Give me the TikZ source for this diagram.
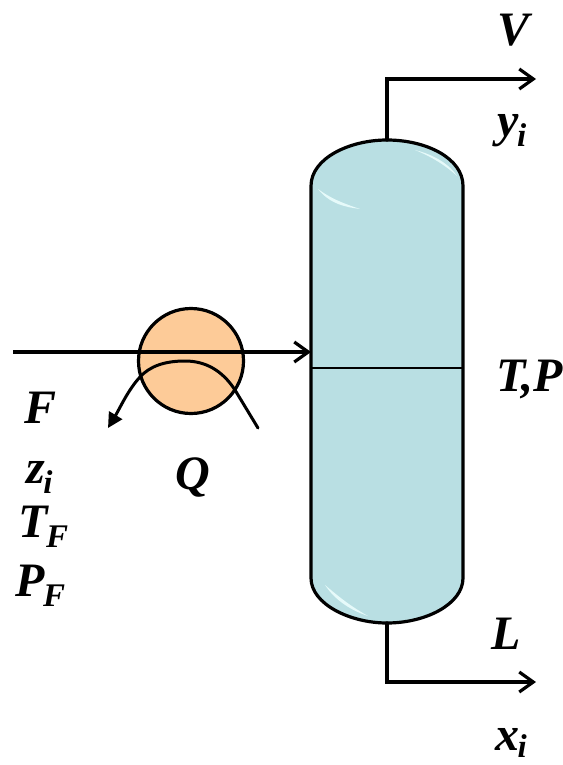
\documentclass[tikz,border=0pt]{standalone}
\usepackage{fontspec}
\setmainfont{Liberation Serif}
\usetikzlibrary{arrows.meta}
\definecolor{vesselfill}{HTML}{B9DFE3}
\definecolor{heaterfill}{HTML}{FDCB98}
\definecolor{shine}{HTML}{E6FAFA}
\tikzset{
  lbl/.style={font=\fontsize{48}{48}\selectfont\bfseries\itshape, inner sep=0pt, anchor=base west, text=black},
  pipe/.style={line width=3.2pt, line cap=round, line join=miter},
  flowarrow/.style={pipe, -{Straight Barb[length=14pt,width=20pt,line width=3.2pt]}},
  qarrow/.style={line width=3pt, line cap=round, -{Triangle[length=15pt,width=15pt]}},
  vessel/.style={line width=3.2pt, draw=black, fill=vesselfill},
}
\newcommand{\sbs}[2][-10pt]{\kern-1.5pt\raisebox{#1}{\fontsize{33}{33}\selectfont #2}}
\begin{document}
\begin{tikzpicture}[x=1pt,y=-1pt]
\useasboundingbox (0,0) rectangle (562,765);
% vessel
\draw[vessel] (311,186) .. controls (311,158) and (350,140) .. (387,140)
  .. controls (426,140) and (463,158) .. (463,186)
  -- (463,578) .. controls (463,604) and (426,623) .. (387,623)
  .. controls (350,623) and (311,604) .. (311,578) -- cycle;
\fill[shine] (318,189) .. controls (330,204) and (345,207) .. (360,209) .. controls (342,203) and (330,198) .. (318,189) -- cycle;
\fill[shine] (415,150) .. controls (435,155) and (450,165) .. (457,176) .. controls (445,165) and (432,157) .. (415,150) -- cycle;
\fill[shine] (325,585) .. controls (335,600) and (350,610) .. (368,616) .. controls (350,606) and (338,596) .. (325,585) -- cycle;
\coordinate (vtop) at (387,140);
\coordinate (vbot) at (387,623);
\coordinate (vleft) at (311,352);
\coordinate (tleft) at (311,368);
\coordinate (tright) at (463,368);
\coordinate (vcorner) at (387,79);
\coordinate (vout) at (536,79);
\coordinate (lcorner) at (387,682);
\coordinate (lout) at (536,682);
\coordinate (fin) at (13,352);
\coordinate (qin) at (258,428);
\coordinate (qmid) at (185,361);
\coordinate (qout) at (108,428);
\draw[line width=1.6pt] (tleft) -- (tright);
% heater
\node[circle, draw=black, fill=heaterfill, line width=3.2pt, minimum size=105pt, inner sep=0pt] (heater) at (191,361) {};
% streams
\draw[flowarrow, line cap=butt] (fin) -- (vleft);
\draw[qarrow] (qin) -- (235,390) .. controls (222,370) and (205,361) .. (qmid)
  .. controls (165,361) and (150,366) .. (140,377) .. controls (128,390) and (120,408) .. (qout);
\draw[flowarrow] (vtop) -- (vcorner) -- (vout);
\draw[flowarrow] (vbot) -- (lcorner) -- (lout);
% labels
\node[lbl] (lV) at (497,46) {V};
\node[lbl] (ly) at (497,136) {y\sbs{i}};
\node[lbl] (lTP) at (496,391) {T,P};
\node[lbl] (lF) at (24,423) {F};
\node[lbl] (lz) at (26,483) {z\sbs{i}};
\node[lbl] (lQ) at (175,489) {Q};
\node[lbl] (lT) at (18,537) {T\sbs{F}};
\node[lbl] (lP) at (15,596) {P\sbs{F}};
\node[lbl] (lL) at (491,649) {L};
\node[lbl] (lx) at (495,750) {x\sbs[-7pt]{i}};
\end{tikzpicture}
\end{document}
